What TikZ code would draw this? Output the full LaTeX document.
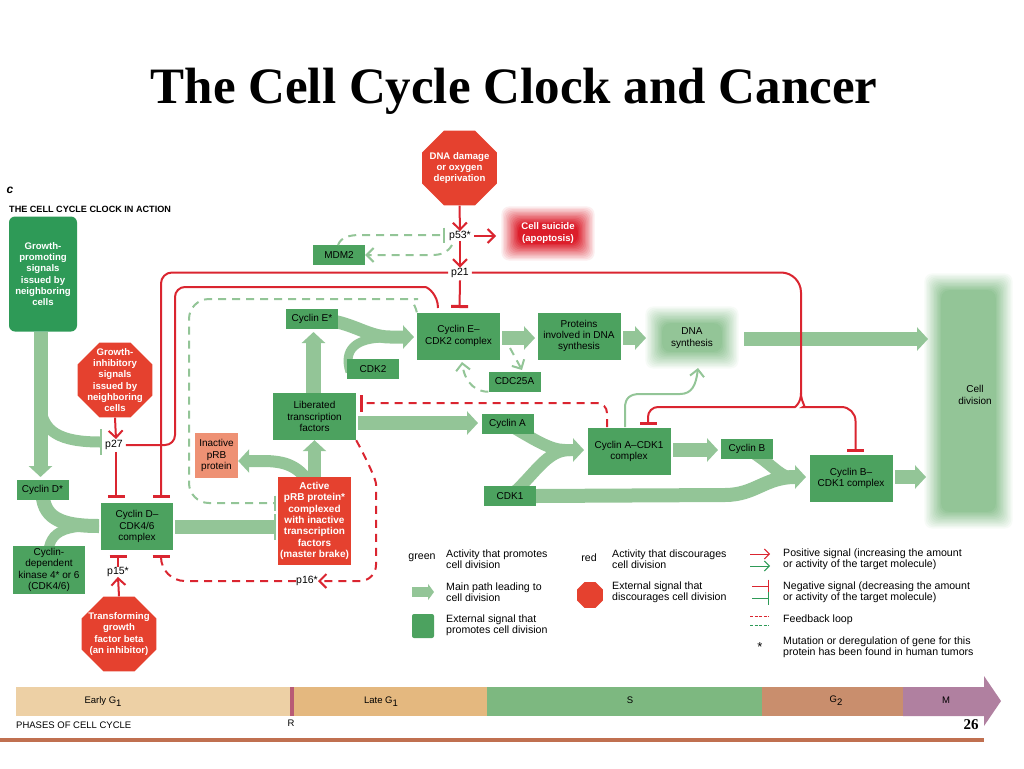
\documentclass[tikz,border=0pt]{standalone}
\usepackage{fontspec}
\setmainfont{Liberation Sans}
\newfontfamily\titlefont{Liberation Serif}
\usetikzlibrary{shapes.geometric, arrows.meta, positioning, calc, backgrounds}
\definecolor{darkGreen}{HTML}{2E9A57}
\definecolor{boxGreen}{HTML}{4CA25F}
\definecolor{paleGreen}{HTML}{93C597}
\definecolor{stopRed}{HTML}{E5412F}
\definecolor{coreRed}{HTML}{DC1E2B}
\definecolor{lineRed}{HTML}{DA2530}
\definecolor{salmon}{HTML}{EE9174}
\definecolor{ruleBrown}{HTML}{C07050}
\newcommand{\bodyfont}{\fontsize{10}{11.3}\selectfont}
\newcommand{\softBox}[5]{%
  \foreach \k in {0,...,13}{
    \pgfmathsetmacro{\tint}{\k*100/13}
    \fill[#5!\tint!white, rounded corners=8pt]
      (#1+\k*1.4,#2+\k*1.4) rectangle (#3-\k*1.4,#4-\k*1.4);
  }}
\newcommand{\lowsub}[1]{\raisebox{-3pt}{#1}}
\tikzstyle{box}=[fill=boxGreen, inner sep=0pt, align=center, font=\bodyfont]
\tikzstyle{smallBox}=[box, minimum width=52pt, minimum height=20pt]
\tikzstyle{wideBox}=[box, minimum width=83pt, minimum height=47pt]
\tikzstyle{whiteText}=[text=white, font=\fontsize{9.6}{11.3}\selectfont\bfseries, align=center, inner sep=0pt]
\tikzstyle{stopSign}=[regular polygon, regular polygon sides=8,
  fill=stopRed, minimum size=81pt, inner sep=0pt]
\tikzstyle{plain}=[font=\fontsize{10.5}{11.3}\selectfont, inner sep=0pt, align=center]
\tikzstyle{phaseText}=[font=\fontsize{9.5}{11}\selectfont, inner sep=0pt]
\tikzstyle{legendText}=[font=\fontsize{10.6}{11.3}\selectfont, inner sep=0pt, align=left, anchor=west]
\tikzstyle{mainArrow}=[draw=paleGreen, line width=14pt, -{Triangle[length=11pt,width=23pt]}]
\tikzstyle{mainLine}=[draw=paleGreen, line width=14pt]
\tikzstyle{mainTee}=[draw=paleGreen, line width=14pt, -{Bar[line width=2pt,width=26pt]}]
\tikzstyle{redLine}=[draw=lineRed, line width=2pt]
\tikzstyle{redArrow}=[redLine, -{Straight Barb[length=7pt,width=14pt]}]
\tikzstyle{redTee}=[redLine, -{Bar[line width=3pt,width=17pt]}]
\tikzstyle{feedback}=[dash pattern=on 8pt off 6pt]
\tikzstyle{greenLine}=[draw=paleGreen, line width=2pt]
\tikzstyle{greenArrow}=[greenLine, -{Straight Barb[length=7pt,width=14pt]}]
\tikzstyle{greenTee}=[greenLine, -{Bar[line width=2pt,width=15pt]}]
\begin{document}
\begin{tikzpicture}[x=1pt, y=-1pt]
      \useasboundingbox (0,0) rectangle (1024,768);

      \node[font=\fontsize{51}{53}\selectfont\titlefont\bfseries, inner sep=0pt] (title) at (514,91) {The Cell Cycle Clock and Cancer};
      \node[font=\fontsize{12}{12}\selectfont\bfseries\itshape, inner sep=0pt] (partC) at (10,190) {c};
      \node[font=\fontsize{9.1}{10}\selectfont\bfseries, inner sep=0pt, anchor=west] (heading) at (9,209) {THE CELL CYCLE CLOCK IN ACTION};

      % soft edged boxes
      \begin{scope}[on background layer]
      \softBox{500}{205}{596}{262}{coreRed}
      \softBox{644}{305}{740}{370}{paleGreen}
      \softBox{923}{272}{1014}{530}{paleGreen}
      \end{scope}
      \node[whiteText] (suicide) at (548,233) {Cell suicide\\(apoptosis)};
      \node[box, fill=none] (dnaSynth) at (692,338) {DNA\\synthesis};
      \node[box, fill=none] (division) at (975,395) {Cell\\division};

      % signals
      \node[box, fill=darkGreen, rounded corners=6pt, minimum width=68pt, minimum height=115pt, whiteText] (promoting) at (43,274) {Growth-\\promoting\\signals\\issued by\\neighboring\\cells};
      \node[stopSign, label={[whiteText]center:DNA damage\\or oxygen\\deprivation}] (damage) at (459.5,168) {};
      \node[stopSign, label={[whiteText]center:Growth-\\inhibitory\\signals\\issued by\\neighboring\\cells}] (inhibitory) at (115,380) {};
      \node[stopSign, label={[whiteText]center:Transforming\\growth\\factor beta\\(an inhibitor)}] (transforming) at (119,634) {};

      % complexes and proteins
      \node[smallBox] (mdm) at (339,255) {MDM2};
      \node[smallBox] (cyclinE) at (312,319) {Cyclin E*};
      \node[smallBox] (cdkTwo) at (373,369) {CDK2};
      \node[smallBox] (cdc) at (514.5,381.5) {CDC25A};
      \node[smallBox] (cyclinA) at (507.5,424) {Cyclin A};
      \node[smallBox] (cyclinB) at (747,449) {Cyclin B};
      \node[smallBox] (cdkOne) at (510,496) {CDK1};
      \node[smallBox] (cyclinD) at (42.5,490) {Cyclin D*};
      \node[wideBox] (complexE) at (458.5,336) {Cyclin E--\\CDK2 complex};
      \node[wideBox] (proteins) at (579,336) {Proteins\\involved in DNA\\synthesis};
      \node[wideBox] (liberated) at (314.5,416.5) {Liberated\\transcription\\factors};
      \node[wideBox] (complexA) at (629,451.5) {Cyclin A--CDK1\\complex};
      \node[wideBox] (complexB) at (851,478.5) {Cyclin B--\\CDK1 complex};
      \node[box, minimum width=72pt, minimum height=47pt] (complexD) at (137,526.5) {Cyclin D--\\CDK4/6\\complex};
      \node[box, minimum width=72pt, minimum height=48pt] (cdkFour) at (49,570) {Cyclin-\\dependent\\kinase 4* or 6\\(CDK4/6)};
      \node[box, fill=salmon, minimum width=43pt, minimum height=45pt] (inactive) at (216.5,455.5) {Inactive\\pRB\\protein};
      \node[box, fill=stopRed, whiteText, font=\fontsize{10}{11.3}\selectfont\bfseries, minimum width=73pt, minimum height=88pt] (active) at (314.5,521) {Active\\pRB protein*\\complexed\\with inactive\\transcription\\factors\\(master brake)};

      \node[plain] (pThree) at (460,236) {p53*};
      \node[plain] (pTwoOne) at (460,272.5) {p21};
      \node[plain] (pTwoSeven) at (114,445) {p27};
      \node[plain] (pOneFive) at (118,572) {p15*};
      \node[plain] (pOneSix) at (307,581) {p16*};

      \coordinate (teeRb) at (276,503);
      \coordinate (teeActive) at (276,527);
      \coordinate (teeSeven) at (102,442);
      \coordinate (teeEone) at (438,308);
      \coordinate (teeEtwo) at (459.5,308);
      \coordinate (teeDone) at (116,498);
      \coordinate (teeDtwo) at (161,498);
      \coordinate (teeDthree) at (118,555);
      \coordinate (teeDfour) at (161,555);
      \coordinate (teeA) at (648,425);
      \coordinate (teeB) at (855.5,452);
      \coordinate (teeLib) at (360,403);
      \coordinate (teeThree) at (445,235);
      \coordinate (split) at (801,393);
      \coordinate (fbA) at (607,427);

      % main path
      \begin{scope}[on background layer]
      \draw[mainArrow] ($(promoting.south)+(-2.5,0)$) -- (40.5,477);
      \draw[mainTee, line width=11pt] (40.5,405) .. controls (42,432) and (60,442) .. (teeSeven);
      \draw[mainLine] (cyclinD.center) .. controls (42,518) and (60,526) .. (99,526);
      \draw[mainLine, line width=10pt] (cdkFour.center) .. controls (44,533) and (58,526) .. (99,526);
      \draw[mainTee] (175,527) -- (teeActive);
      \draw[mainArrow, line width=13pt] (active.center) -- (liberated.south);
      \draw[mainArrow, line width=12pt] (314,490) .. controls (300,465) and (285,461) .. (262,461) -- ($(inactive.east)+(0,5.5)$);
      \draw[mainArrow, line width=15pt] ($(liberated.north)+(-1,0)$) -- (313.5,332);
      \draw[mainArrow, line width=13pt] (cyclinE.center) .. controls (350,319) and (365,337) .. (390,337) -- (414,337);
      \draw[mainLine, line width=9pt] (350,372) .. controls (343,350) and (355,338) .. (385,338);
      \draw[mainArrow] (502,338) -- (535,338);
      \draw[mainArrow] (623,338) -- (646,338);
      \draw[mainArrow] (744,339) -- (928,339);
      \draw[mainArrow] (358,423) -- (478,423);
      \draw[mainArrow, line width=12pt] (cyclinA.center) .. controls (535,440) and (550,450) .. (565,450) -- (584,450);
      \draw[mainLine, line width=12pt] (cdkOne.center) .. controls (535,475) and (546,450) .. (570,450);
      \draw[mainArrow] (673,450) -- (718,450);
      \draw[mainArrow, line width=12pt] (cyclinB.center) .. controls (770,462) and (780,477) .. (790,477) -- (806,477);
      \draw[mainLine] (cdkOne.east) -- (725,495) .. controls (755,495) and (765,477) .. (795,477);
      \draw[mainArrow] (895,477) -- (926,477);
      \end{scope}

      % green feedback
      \draw[greenArrow] (625,427) -- (625,408) .. controls (625,398) and (630,394) .. (640,394) -- (680,394) .. controls (692,394) and (696,385) .. (698,368);
      \draw[greenTee, feedback] (338,245) .. controls (341,237) and (350,235) .. (360,235) -- (teeThree);
      \draw[greenArrow, feedback] (452,245) .. controls (448,252) and (442,255) .. (432,255) -- (mdm.east);
      \draw[greenTee, feedback, rounded corners=20pt] (complexE.north west) .. controls (415,303) and (408,299) .. (398,299) -- (189,299) -- (189,503) -- (teeRb);
      \draw[greenArrow, feedback] (510,348) -- (522,370);
      \draw[greenArrow, feedback] (cdc.south west) .. controls (478,392) and (465,385) .. (462,362);

      % red signals
      \draw[redArrow] (damage.south) -- (pThree.north);
      \draw[redArrow] (pThree.south) -- (pTwoOne.north);
      \draw[redArrow] ($(pThree.east)+(3,0)$) -- (496,236);
      \draw[redTee] ($(pTwoOne.south)+(0,3)$) -- (teeEtwo);
      \draw[redArrow] (inhibitory.south) -- ($(pTwoSeven.north)+(2,-1)$);
      \draw[redTee] ($(pTwoSeven.south)+(2,2)$) -- (teeDone);
      \draw[redArrow] (transforming.north) -- (pOneFive.south);
      \draw[redTee] (pOneFive.north) -- (teeDthree);
      \draw[redLine, rounded corners=10pt] ($(pTwoSeven.east)+(3,0)$) -| (175,287) -- (415,287) .. controls (428,287) and (438,295) .. (teeEone);
      \draw[redTee, rounded corners=11pt] ($(pTwoOne.west)+(-3,0)$) -| (teeDtwo);
      \draw[redLine, rounded corners=20pt] ($(pTwoOne.east)+(3,0)$) -| (split);
      \draw[redTee, rounded corners=10pt] (split) .. controls (801,403) and (795,407) .. (785,407) -| (teeA);
      \draw[redTee, rounded corners=14pt] (split) .. controls (801,403) and (807,407) .. (817,407) -| (teeB);

      % red feedback
      \draw[redTee, feedback, rounded corners=10pt] (fbA) |- (teeLib);
      \draw[redArrow, feedback, rounded corners=16pt] (liberated.south east) .. controls (368,462) and (376,480) .. (376,500) -- (376,581) -- (pOneSix.east);
      \draw[redTee, feedback, rounded corners=24pt] (pOneSix.west) -| (teeDfour);

      % key
      \node[legendText, anchor=center] (keyGreen) at (422,558) {green};
      \node[legendText, anchor=center] (keyRed) at (589,558) {red};
      \node[legendText] (keyA) at (446,559.5) {Activity that promotes\\cell division};
      \node[legendText] (keyB) at (446,592.5) {Main path leading to\\cell division};
      \node[legendText] (keyC) at (446,625.5) {External signal that\\promotes cell division};
      \node[legendText] (keyD) at (612,559.5) {Activity that discourages\\cell division};
      \node[legendText] (keyE) at (612,592.5) {External signal that\\discourages cell division};
      \node[legendText] (keyF) at (783,559.5) {Positive signal (increasing the amount\\or activity of the target molecule)};
      \node[legendText] (keyG) at (783,592.5) {Negative signal (decreasing the amount\\or activity of the target molecule)};
      \node[legendText] (keyH) at (783,620) {Feedback loop};
      \node[legendText] (keyI) at (783,647) {Mutation or deregulation of gene for this\\protein has been found in human tumors};
      \node[plain, font=\fontsize{13}{14}\selectfont] (keyStar) at (760,647) {*};
      \node[box, rounded corners=2pt, minimum width=22pt, minimum height=24pt] (keySquare) at (423,626) {};
      \node[stopSign, minimum size=28pt] (keyStop) at (590,595) {};
      \coordinate (keyArrowA) at (412,592);
      \coordinate (keyArrowB) at (434,592);
      \draw[mainArrow, line width=10pt, -{Triangle[length=6pt,width=16pt]}] (keyArrowA) -- (keyArrowB);

      \foreach \s/\y/\c in {a/554/lineRed, b/566/darkGreen}{
        \coordinate (keyPos\s) at (750,\y);
        \draw[\c, line width=1pt, -{Straight Barb[length=5pt,width=10pt]}] (keyPos\s) -- ++(20,0);
      }
      \foreach \s/\y/\c in {a/586/lineRed, b/598/darkGreen}{
        \coordinate (keyNeg\s) at (752,\y);
        \draw[\c, line width=1pt, -{Bar[width=13pt]}] (keyNeg\s) -- ++(17,0);
      }
      \foreach \s/\y/\c in {a/616/lineRed, b/625/darkGreen}{
        \coordinate (keyDash\s) at (750,\y);
        \draw[\c, line width=1pt, dash pattern=on 3pt off 1.5pt] (keyDash\s) -- ++(19,0);
      }

      % phases of the cycle
      \foreach \a/\b/\c in {16/290/EDD0A5, 294/487/E4B87F, 487/762/7DB880, 762/903/C98E6D}{
        \definecolor{barTint}{HTML}{\c}
        \fill[barTint] (\a,687) rectangle (\b,716);
      }
      \definecolor{barTint}{HTML}{B85B75}
      \fill[barTint] (289.5,687) rectangle (294,716);
      \definecolor{barTint}{HTML}{B080A0}
      \fill[barTint] (903,687) -- (984,687) -- (984,676) -- (1001,701) -- (984,726) -- (984,716) -- (903,716) -- cycle;
      \node[phaseText] (earlyGone) at (103,702) {Early G\lowsub{1}};
      \node[phaseText] (lateGone) at (381,702) {Late G\lowsub{1}};
      \node[phaseText] (phaseS) at (630,700) {S};
      \node[phaseText] (phaseGtwo) at (836,701) {G\lowsub{2}};
      \node[phaseText] (phaseM) at (946,700) {M};
      \node[phaseText, anchor=west] (phases) at (16,725) {PHASES OF CELL CYCLE};
      \node[phaseText] (restriction) at (291,723) {R};
      \node[phaseText, font=\fontsize{15}{16}\selectfont\titlefont\bfseries] (slideNo) at (971,725) {26};
      \coordinate (ruleA) at (0,740);
      \coordinate (ruleB) at (984,740);
      \draw[draw=ruleBrown, line width=3.5pt] (ruleA) -- (ruleB);
\end{tikzpicture}
\end{document}
